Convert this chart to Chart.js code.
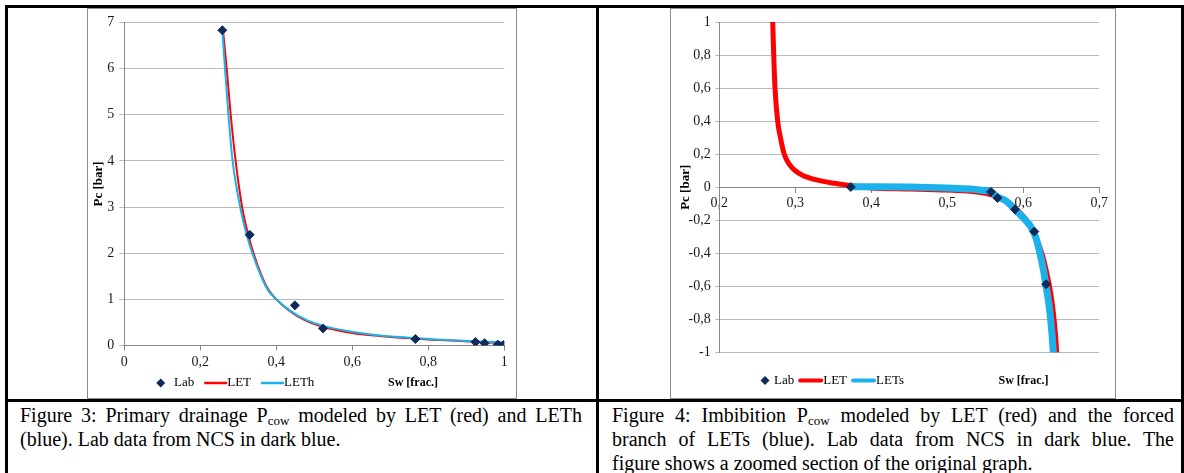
<!DOCTYPE html>
<html>
<head>
<meta charset="utf-8">
<script src="https://cdn.jsdelivr.net/npm/chart.js@4"></script>
<style>
  body { margin: 0; width: 1184px; height: 473px; background: #fff; position: relative; overflow: hidden;
         font-family: "Liberation Serif", "Times New Roman", serif; }
  .rule { position: absolute; background: #000; }
  .frame { position: absolute; top: 8px; height: 391px; border: 1px solid #8c8c8c; box-sizing: border-box; background: #fff; }
  .frame canvas { display: block; }
  .caption { position: absolute; top: 403px; width: 562px; font-size: 20px; line-height: 24px; color: #000; }
  .caption div { text-align: justify; text-align-last: justify; }
  .caption div.last { text-align: left; text-align-last: left; }
  .caption .sub { font-size: 13px; line-height: 0; vertical-align: -3px; }
</style>
</head>
<body>
<div class="rule" style="left:5px; top:5px; width:1179px; height:3px"></div>
<div class="rule" style="left:5px; top:5px; width:3px; height:468px"></div>
<div class="rule" style="left:596px; top:5px; width:3px; height:468px"></div>
<div class="rule" style="left:1181px; top:5px; width:3px; height:468px"></div>
<div class="rule" style="left:5px; top:399px; width:1179px; height:3px"></div>

<div class="frame" style="left:87px; width:430px"><canvas id="fig3" width="428" height="389"></canvas></div>
<div class="frame" style="left:670px; width:446px"><canvas id="fig4" width="444" height="389"></canvas></div>

<div class="caption" style="left:20px">
  <div>Figure 3: Primary drainage P<span class="sub">cow</span> modeled by LET (red) and LETh</div>
  <div class="last">(blue). Lab data from NCS in dark blue.</div>
</div>
<div class="caption" style="left:612px">
  <div>Figure 4: Imbibition P<span class="sub">cow</span> modeled by LET (red) and the forced</div>
  <div>branch of LETs (blue). Lab data from NCS in dark blue. The</div>
  <div class="last">figure shows a zoomed section of the original graph.</div>
</div>

<script>
// Figure 3: primary drainage
const swTicks3 = [0, 0.2, 0.4, 0.6, 0.8, 1];
const pcTicks3 = [0, 1, 2, 3, 4, 5, 6, 7];
const labSw3 = [0.258, 0.330, 0.449, 0.523, 0.766, 0.924, 0.948, 0.983, 0.998];
const labPc3 = [6.83, 2.40, 0.87, 0.37, 0.14, 0.075, 0.05, 0.02, 0.01];
const letSw3 = [0.260, 0.2695, 0.280, 0.293, 0.310, 0.326, 0.340, 0.362, 0.380, 0.400, 0.435, 0.475, 0.525, 0.580, 0.650, 0.740, 0.830, 0.920, 1.000];
const letPc3 = [6.80, 6.00, 5.00, 4.00, 3.00, 2.40, 2.00, 1.50, 1.20, 1.00, 0.75, 0.55, 0.40, 0.30, 0.22, 0.16, 0.12, 0.08, 0.05];
const lethSw3 = [0.258, 0.265, 0.274, 0.285, 0.305, 0.322, 0.337, 0.360, 0.378, 0.400, 0.437, 0.480, 0.525, 0.590, 0.660, 0.750, 0.850, 0.950, 1.000];
const lethPc3 = [6.83, 6.00, 5.00, 4.00, 3.00, 2.40, 2.00, 1.50, 1.20, 1.00, 0.75, 0.55, 0.42, 0.31, 0.23, 0.17, 0.12, 0.08, 0.065];

// Figure 4: imbibition (zoomed)
const swTicks4 = [0.2, 0.3, 0.4, 0.5, 0.6, 0.7];
const pcTicks4 = [-1, -0.8, -0.6, -0.4, -0.2, 0, 0.2, 0.4, 0.6, 0.8, 1];
const labSw4 = [0.373, 0.5575, 0.566, 0.589, 0.6145, 0.630];
const labPc4 = [0.002, -0.028, -0.064, -0.134, -0.268, -0.586];
const letSw4 = [0.2703, 0.2716, 0.2733, 0.2768, 0.2805, 0.2855, 0.292, 0.300, 0.310, 0.328, 0.360, 0.400, 0.450, 0.500, 0.530,
                0.550, 0.565, 0.580, 0.595, 0.6045, 0.612, 0.619, 0.6245, 0.630, 0.6345, 0.638, 0.6405, 0.6425, 0.644];
const letPc4 = [1.0, 0.8, 0.6, 0.4, 0.3, 0.2, 0.14, 0.1, 0.072, 0.045, 0.018, -0.004, -0.01, -0.017, -0.024,
                -0.036, -0.055, -0.09, -0.15, -0.2, -0.26, -0.33, -0.4, -0.5, -0.6, -0.7, -0.8, -0.9, -1.0];
const letsSw4 = [0.373, 0.400, 0.450, 0.500, 0.530, 0.545, 0.5575, 0.566, 0.578, 0.589, 0.601, 0.610, 0.617, 0.622, 0.6265, 0.630, 0.6335, 0.636, 0.638, 0.6395];
const letsPc4 = [0.004, 0.004, 0.002, -0.004, -0.01, -0.018, -0.028, -0.058, -0.085, -0.134, -0.19, -0.24, -0.31, -0.4, -0.5, -0.6, -0.7, -0.8, -0.9, -1.0];

const NAVY = '#0f2b5b';
const RED = '#ff0000';
const CYAN = '#1bb1ea';
const GRID = '#b9b9b9';
const AXIS = '#868686';

Chart.defaults.font.family = '"Liberation Serif", "Times New Roman", serif';
Chart.defaults.font.size = 14;
Chart.defaults.color = '#1a1a1a';

const pts = (xs, ys) => xs.map((x, i) => ({ x: x, y: ys[i] }));
const fmt = v => String(Math.round(v * 10) / 10).replace('.', ',');

// legend row + "Sw [frac.]" title, drawn on the same line like the Excel original
const legendRow = {
  id: 'legendRow',
  afterDraw(chart, args, o) {
    const ctx = chart.ctx;
    ctx.save();
    ctx.font = '13px "Liberation Serif"';
    ctx.textBaseline = 'middle';
    ctx.textAlign = 'left';
    let x = o.x;
    const y = o.y;
    chart.data.datasets.forEach(ds => {
      if (ds.showLine) {
        ctx.strokeStyle = ds.borderColor;
        ctx.lineWidth = o.lineWidth;
        ctx.lineCap = o.round ? 'round' : 'butt';
        const inset = o.round ? o.lineWidth / 2 : 0;
        ctx.beginPath();
        ctx.moveTo(x + inset, y);
        ctx.lineTo(x + o.lineLen - inset, y);
        ctx.stroke();
        x += o.lineLen;
      } else {
        const r = 4.5;
        ctx.fillStyle = ds.backgroundColor;
        ctx.beginPath();
        ctx.moveTo(x, y - r); ctx.lineTo(x + r, y); ctx.lineTo(x, y + r); ctx.lineTo(x - r, y);
        ctx.closePath();
        ctx.fill();
        x += o.markGap;
      }
      ctx.fillStyle = '#000';
      ctx.fillText(ds.label, x, y);
      x += ctx.measureText(ds.label).width + o.gap;
    });
    ctx.font = 'bold 12px "Liberation Serif"';
    ctx.textAlign = 'center';
    ctx.fillText(o.title, o.titleX, y);
    ctx.restore();
  }
};

function makeScales(cfg) {
  return {
    x: {
      type: 'linear', min: cfg.xTicks[0], max: cfg.xTicks[cfg.xTicks.length - 1],
      position: cfg.xPos,
      afterBuildTicks: s => { s.ticks = cfg.xTicks.map(v => ({ value: v })); },
      afterFit: s => { if (cfg.xHeight) s.height = cfg.xHeight; },
      grid: { drawOnChartArea: false, color: AXIS, tickLength: 5 },
      border: { color: AXIS },
      ticks: { padding: cfg.xPad, maxRotation: 0, autoSkip: false, callback: fmt }
    },
    y: {
      type: 'linear', min: cfg.yTicks[0], max: cfg.yTicks[cfg.yTicks.length - 1],
      afterBuildTicks: s => { s.ticks = cfg.yTicks.map(v => ({ value: v })); },
      afterFit: s => { s.width = cfg.yWidth; },
      grid: { color: GRID, tickLength: cfg.yTick },
      border: { color: AXIS },
      ticks: { padding: cfg.yPad, autoSkip: false, callback: fmt },
      title: { display: true, text: 'Pc [bar]', color: '#000',
               font: { weight: 'bold', size: 13 }, padding: { top: cfg.titlePad, bottom: 0 } }
    }
  };
}

function labSet(xs, ys) {
  return { label: 'Lab', data: pts(xs, ys), showLine: false, order: 0,
           pointStyle: 'rectRot', pointRadius: 4.5, pointHoverRadius: 4.5,
           backgroundColor: NAVY, borderColor: NAVY, borderWidth: 1 };
}
function curveSet(label, xs, ys, color, width, order) {
  return { label: label, data: pts(xs, ys), showLine: true, order: order,
           borderColor: color, backgroundColor: color, borderWidth: width,
           pointRadius: 0, cubicInterpolationMode: 'monotone', borderCapStyle: 'butt' };
}

new Chart(document.getElementById('fig3'), {
  type: 'scatter',
  data: {
    datasets: [
      labSet(labSw3, labPc3),
      curveSet('LET', letSw3, letPc3, RED, 2, 2),
      curveSet('LETh', lethSw3, lethPc3, CYAN, 2, 1)
    ]
  },
  options: {
    responsive: false, animation: false,
    layout: { padding: { left: 0, top: 11.7, right: 11.7, bottom: 0 } },
    scales: makeScales({ xTicks: swTicks3, yTicks: pcTicks3, xPos: 'bottom', xHeight: 52.5, xPad: 3.8,
                         yWidth: 36.3, yTick: 5, yPad: 5, titlePad: 3.2 }),
    plugins: {
      legend: { display: false }, tooltip: { enabled: false },
      legendRow: { x: 72.7, y: 374, markGap: 13.3, gap: 10, lineLen: 23, lineWidth: 2.5, round: false,
                   title: 'Sw [frac.]', titleX: 325 }
    }
  },
  plugins: [legendRow]
});

new Chart(document.getElementById('fig4'), {
  type: 'scatter',
  data: {
    datasets: [
      labSet(labSw4, labPc4),
      curveSet('LET', letSw4, letPc4, RED, 5, 2),
      curveSet('LETs', letsSw4, letsPc4, CYAN, 7, 1)
    ]
  },
  options: {
    responsive: false, animation: false,
    layout: { padding: { left: 0, top: 10.3, right: 15.7, bottom: 45.4 } },
    scales: makeScales({ xTicks: swTicks4, yTicks: pcTicks4, xPos: { y: 0 }, xHeight: 0, xPad: 2.9,
                         yWidth: 48.3, yTick: 4, yPad: 4.6, titlePad: 7.2 }),
    plugins: {
      legend: { display: false }, tooltip: { enabled: false },
      legendRow: { x: 94, y: 371.5, markGap: 9, gap: 4, lineLen: 25, lineWidth: 4, round: true,
                   title: 'Sw [frac.]', titleX: 352.5 }
    }
  },
  plugins: [legendRow]
});
</script>
</body>
</html>
